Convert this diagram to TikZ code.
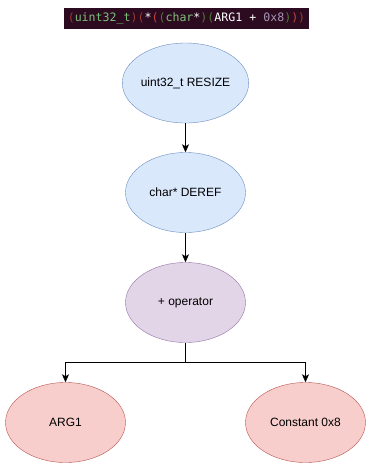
\documentclass[tikz,border=0pt]{standalone}
\usepackage{fontspec}
\setmainfont{Liberation Sans}
\newfontfamily\codefont{DejaVu Sans Mono}
\usetikzlibrary{shapes.geometric, arrows.meta}

\definecolor{codebg}{HTML}{2C0A20}
\definecolor{parred}{HTML}{9A3A34}
\definecolor{parbright}{HTML}{C4443C}
\definecolor{pargreen}{HTML}{4E7A36}
\definecolor{typegreen}{HTML}{7DC07A}
\definecolor{numgray}{HTML}{A596B4}
\definecolor{bluefill}{HTML}{DAE8FC}
\definecolor{bluedraw}{HTML}{6C8EBF}
\definecolor{purplefill}{HTML}{E1D5E7}
\definecolor{purpledraw}{HTML}{9673A6}
\definecolor{redfill}{HTML}{F8CECC}
\definecolor{reddraw}{HTML}{B85450}

\tikzset{
  opnode/.style={ellipse, minimum width=120pt, minimum height=80pt, inner sep=0pt, font=\fontsize{12}{14}\selectfont},
  castnode/.style={opnode, fill=bluefill, draw=bluedraw},
  addnode/.style={opnode, fill=purplefill, draw=purpledraw},
  leafnode/.style={opnode, fill=redfill, draw=reddraw},
  link/.style={-{Stealth[length=8pt, width=7pt, inset=2pt]}, line width=0.8pt}
}

\begin{document}
\begin{tikzpicture}[x=1pt, y=-1pt]
                \useasboundingbox (0,0) rectangle (371,472);
                % expression banner
                \node[fill=codebg, minimum width=245pt, minimum height=21pt, inner sep=0pt,
                      font=\codefont\fontsize{11.6}{13}\selectfont] (expr) at (186.5,18.5)
                  {\textcolor{parred}{(}\textcolor{typegreen}{uint32\_t}\textcolor{parred}{)}%
                   \textcolor{parred}{(}\textcolor{white}{*}\textcolor{parbright}{(}\textcolor{pargreen}{(}%
                   \textcolor{typegreen}{char}\textcolor{white}{*}\textcolor{pargreen}{)}%
                   \textcolor{pargreen}{(}\textcolor{white}{ARG1 + }\textcolor{numgray}{0x8}%
                   \textcolor{pargreen}{)}\textcolor{parbright}{)}\textcolor{parred}{)}};
                % tree
                \node[castnode] (resize) at (185.5,83) {uint32\_t RESIZE};
                \node[castnode] (deref) at (185.5,192.5) {char* DEREF};
                \node[addnode] (plus) at (185.5,302.5) {+ operator};
                \node[leafnode] (arg) at (65.5,422.5) {ARG1};
                \node[leafnode] (const) at (305.5,422.5) {Constant 0x8};
                \coordinate (split) at (185.5,362.5);
                \draw[link] (resize) -- (deref);
                \draw[link] (deref) -- (plus);
                \draw[link] (plus) -- (split) -| (arg);
                \draw[link] (split) -| (const);
            \end{tikzpicture}
\end{document}
